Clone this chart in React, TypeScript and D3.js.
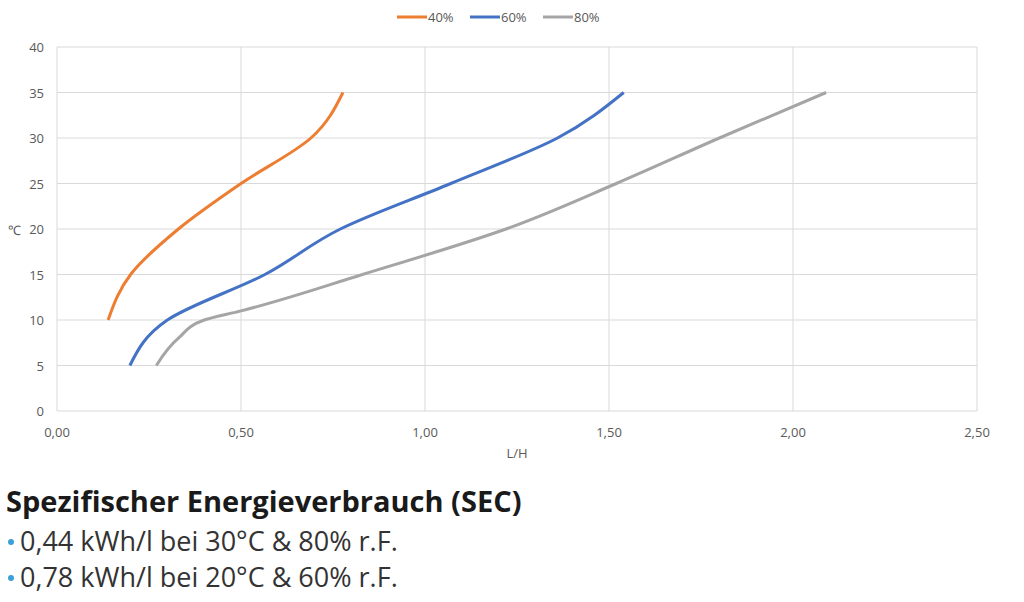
import * as d3 from "d3";

const W = 1024;
const H = 602;

const series = ["40%", "60%", "80%"];
const colors = ["#ed7d31", "#4472c4", "#a5a5a5"];
const tempValues = [
  [10, 15, 20, 25, 30, 35],
  [5, 10, 15, 20, 25, 30, 35],
  [5, 8, 10, 11, 15, 20, 25, 30, 35],
];
const flowValues = [
  [0.139, 0.2, 0.33, 0.5, 0.69, 0.777],
  [0.198, 0.3, 0.565, 0.77, 1.07, 1.36, 1.54],
  [0.27, 0.33, 0.4, 0.5, 0.83, 1.22, 1.52, 1.8, 2.09],
];
const xTicks = [0, 0.5, 1, 1.5, 2, 2.5];
const yTicks = [0, 5, 10, 15, 20, 25, 30, 35, 40];
const bullets = ["0,44 kWh/l bei 30°C & 80% r.F.", "0,78 kWh/l bei 20°C & 60% r.F."];

const x = d3.scaleLinear().domain([0, 2.5]).range([57, 977]);
const y = d3.scaleLinear().domain([0, 40]).range([411, 47]);

export default function App() {
  const line = d3
    .line<[number, number]>()
    .x((d) => x(d[0]))
    .y((d) => y(d[1]))
    .curve(d3.curveMonotoneY);
  const font = "'Open Sans', sans-serif";
  return (
    <svg width={W} height={H} style={{ position: "absolute", left: 0, top: 0, background: "#fff" }} fontFamily={font}>
      {yTicks.map((t) => (
        <g key={t}>
          <line x1={57} x2={977} y1={y(t)} y2={y(t)} stroke="#d9d9d9" />
          <text x={44} y={y(t) + 5} textAnchor="end" fontSize={13} fill="#595959">{t}</text>
        </g>
      ))}
      {xTicks.map((t) => (
        <g key={t}>
          <line x1={x(t)} x2={x(t)} y1={47} y2={411} stroke="#d9d9d9" />
          <text x={x(t)} y={437} textAnchor="middle" fontSize={13} fill="#595959">{t.toFixed(2).replace(".", ",")}</text>
        </g>
      ))}
      <text x={517} y={458} textAnchor="middle" fontSize={13} fill="#595959">L/H</text>
      <text x={14} y={235} textAnchor="middle" fontSize={13} fill="#595959">℃</text>
      {series.map((s, i) => (
        <path key={s} d={line(tempValues[i].map((t, j) => [flowValues[i][j], t])) || ""} fill="none" stroke={colors[i]} strokeWidth={3} />
      ))}
      {series.map((s, i) => {
        const lx = 397 + i * 73;
        return (
          <g key={s}>
            <line x1={lx} x2={lx + 30} y1={17} y2={17} stroke={colors[i]} strokeWidth={3} />
            <text x={lx + 31} y={22} fontSize={13} fill="#595959">{s}</text>
          </g>
        );
      })}
      <text x={6} y={512} fontSize={29} fontWeight="bold" fill="#1a1a1a">Spezifischer Energieverbrauch (SEC)</text>
      {bullets.map((b, i) => (
        <g key={b}>
          <circle cx={11} cy={542 + i * 36} r={3} fill="#3b9fd8" />
          <text x={20} y={551 + i * 36} fontSize={27} fill="#333">{b}</text>
        </g>
      ))}
    </svg>
  );
}
